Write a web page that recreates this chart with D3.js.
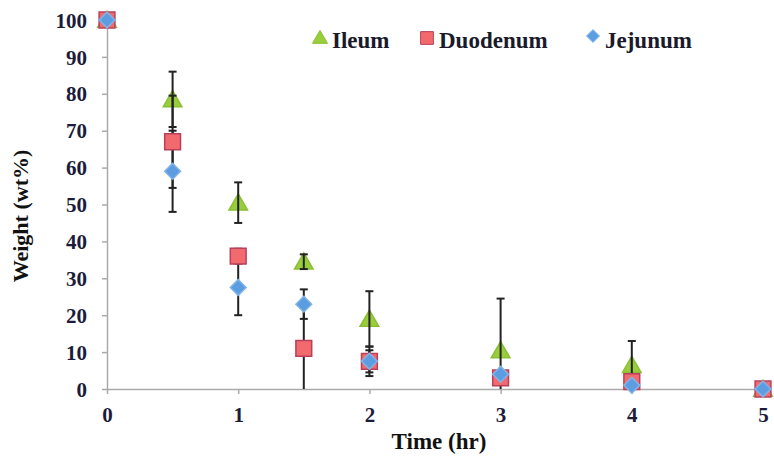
<!DOCTYPE html>
<html lang="en">
<head>
  <meta charset="UTF-8">
  <style>
    body { margin: 0; background: #fff; }
    svg text { font-family: "Liberation Serif", "Times New Roman", Times, "DejaVu Serif", serif; font-weight: bold; }
    .axis path, .axis line { stroke: #aaa; stroke-width: 1.5; }
    .axis text { fill: #1c1c3a; font-size: 21px; }
    .err line { stroke: #222; stroke-width: 2; }
    .legend text { fill: #1a1a2a; font-size: 23px; }
  </style>
  <script src="https://d3js.org/d3.v7.min.js"></script>
</head>
<body>
<svg id="chart"></svg>
<script>
var times = [0, 0.5, 1, 1.5, 2, 3, 4, 5];
var ileum = [100, 78.5, 50.5, 34.5, 19, 10.5, 6.5, 0];
var ileumErr = [0, 7.5, 5.5, 2, 7.5, 14, 6.5, 0];
var duodenum = [100, 67, 36, 11, 7.5, 3, 2, 0];
var duodenumErr = [0, 12.5, 2, 11, 4, 1, 1, 0];
var jejunum = [100, 59, 27.5, 23, 7.5, 4, 1, 0];
var jejunumErr = [0, 11, 7.5, 4, 3, 1, 0.5, 0];
var xTicks = [0, 1, 2, 3, 4, 5];
var yTicks = [0, 10, 20, 30, 40, 50, 60, 70, 80, 90, 100];

var size = {width: 774, height: 460};
var svg = d3.select('#chart')
  .attr('width', size.width)
  .attr('height', size.height);

var xScale = d3.scaleLinear().domain([0, 5]).range([107, 763]);
var yScale = d3.scaleLinear().domain([0, 100]).range([389, 20]);

svg.append('g')
  .attr('class', 'axis axis-x')
  .attr('transform', 'translate(0,' + yScale(0) + ')')
  .call(d3.axisBottom(xScale).tickValues(xTicks).tickFormat(d3.format('d'))
    .tickSize(5).tickSizeOuter(0).tickPadding(13))
  .selectAll('text').attr('dy', '0.71em');

svg.append('g')
  .attr('class', 'axis axis-y')
  .attr('transform', 'translate(' + xScale(0) + ',0)')
  .call(d3.axisLeft(yScale).tickValues(yTicks).tickSize(5).tickSizeOuter(0).tickPadding(15))
  .selectAll('text').attr('dy', '0.34em');

svg.append('text')
  .attr('x', 439).attr('y', 449)
  .attr('text-anchor', 'middle')
  .style('font-size', '23px').style('fill', '#111')
  .text('Time (hr)');

svg.append('text')
  .attr('transform', 'translate(28,216) rotate(-90)')
  .attr('text-anchor', 'middle')
  .style('font-size', '22px').style('fill', '#111')
  .text('Weight (wt%)');

var series = [
  {name: 'Ileum', values: ileum, err: ileumErr, shape: d3.symbolTriangle, size: 150, rot: 0, fill: '#9acd3c', stroke: '#8abf35'},
  {name: 'Duodenum', values: duodenum, err: duodenumErr, shape: d3.symbolSquare, size: 250, rot: 0, fill: '#f26a6e', stroke: '#b8405a'},
  {name: 'Jejunum', values: jejunum, err: jejunumErr, shape: d3.symbolSquare, size: 125, rot: 45, fill: '#5b9de0', stroke: '#80b3e8'}
];

function drawMarkers(s) {
  svg.append('g')
    .selectAll('path')
    .data(s.values)
    .enter()
    .append('path')
    .attr('d', d3.symbol().type(s.shape).size(s.size))
    .attr('transform', function(d, i) {
      var dy = s.shape === d3.symbolTriangle ? 2 : 0;
      return 'translate(' + xScale(times[i]) + ',' + (yScale(d) + dy) + ') rotate(' + s.rot + ')';
    })
    .attr('fill', s.fill)
    .attr('stroke', s.stroke)
    .attr('stroke-width', 1.5);
}

function drawErrors(s) {
  var g = svg.append('g').attr('class', 'err');
  s.values.forEach(function(v, i) {
    if (!s.err[i]) return;
    var x = xScale(times[i]);
    var lo = Math.max(0, v - s.err[i]);
    var hi = v + s.err[i];
    g.append('line').attr('x1', x).attr('x2', x).attr('y1', yScale(lo)).attr('y2', yScale(hi));
    if (lo > 0) g.append('line').attr('x1', x - 4).attr('x2', x + 4).attr('y1', yScale(lo)).attr('y2', yScale(lo));
    g.append('line').attr('x1', x - 4).attr('x2', x + 4).attr('y1', yScale(hi)).attr('y2', yScale(hi));
  });
}

// ileum markers sit under the error bars, the others on top
drawMarkers(series[0]);
series.forEach(drawErrors);
drawMarkers(series[1]);
drawMarkers(series[2]);

// legend
var legendX = [320, 427, 593];
var legendY = [39, 38, 36];
var legend = svg.append('g').attr('class', 'legend');
series.forEach(function(s, i) {
  legend.append('path')
    .attr('d', d3.symbol().type(s.shape).size(s.size * 0.65))
    .attr('transform', 'translate(' + legendX[i] + ',' + legendY[i] + ') rotate(' + s.rot + ')')
    .attr('fill', s.fill)
    .attr('stroke', s.stroke)
    .attr('stroke-width', 1);
  legend.append('text')
    .attr('x', legendX[i] + 12)
    .attr('y', 48)
    .text(s.name);
});
</script>
</body>
</html>
